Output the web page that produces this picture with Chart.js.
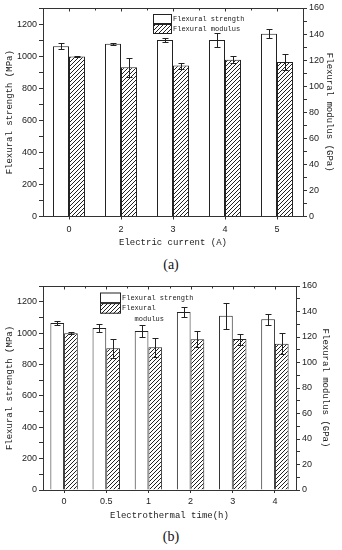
<!DOCTYPE html>
<html><head><meta charset="utf-8">
<script src="https://cdn.jsdelivr.net/npm/chart.js@4.4.1/dist/chart.umd.min.js"></script>
<style>
body{margin:0;background:#fff;width:342px;height:550px;position:relative;overflow:hidden}
.wrap{position:absolute;left:0}
.cap{position:absolute;left:0;width:342px;text-align:center;font-family:"Liberation Serif",serif;font-size:14px;line-height:16px;color:#111}
</style></head><body>
<div class="wrap" style="top:0"><canvas id="ca" width="342" height="255"></canvas></div>
<div class="cap" style="top:257px">(a)</div>
<div class="wrap" style="top:275px"><canvas id="cb" width="342" height="250"></canvas></div>
<div class="cap" style="top:529px">(b)</div>
<script>
// ---- data (a) ----
const currentLabels = ['0','2','3','4','5'];
const strengthA = [1062, 1077, 1100, 1100, 1140];
const strengthErrA = [18, 5, 12, 44, 28];
const modulusA = [122.8, 114.5, 115.8, 120.2, 118.5];
const modulusErrA = [0.7, 7.4, 2.3, 2.7, 5.9];
// ---- data (b) ----
const timeLabels = ['0','0.5','1','2','3','4'];
const strengthB = [1065, 1033, 1014, 1135, 1110, 1088];
const strengthErrB = [15, 26, 37, 32, 83, 35];
const modulusB = [122.9, 111.1, 111.9, 118.2, 118.4, 114.7];
const modulusErrB = [0.7, 7.7, 7.7, 6.3, 4.3, 8.1];
// ---- axis ticks ----
const strengthTicks = {min: 0, max: 1300, step: 100, labelEvery: 200};
const modulusTicks = {min: 0, max: 160, step: 10, labelEvery: 20};

const AX = '#333';
const TXT = '#222';
const tickFont = {family: 'Liberation Sans', size: 9};
const titleFont = {family: 'Liberation Mono', size: 9};

function hatch(){
  const c = document.createElement('canvas'); c.width = 4; c.height = 4;
  const g = c.getContext('2d');
  g.fillStyle = '#fff'; g.fillRect(0,0,4,4);
  g.strokeStyle = '#222'; g.lineWidth = 1;
  g.beginPath();
  g.moveTo(0,4); g.lineTo(4,0);
  g.moveTo(-1,1); g.lineTo(1,-1);
  g.moveTo(3,5); g.lineTo(5,3);
  g.stroke();
  return g.createPattern(c, 'repeat');
}

const errorBars = {
  id: 'errorBars',
  afterDatasetsDraw(chart){
    const ctx = chart.ctx; ctx.save();
    ctx.strokeStyle = '#222'; ctx.lineWidth = 1;
    chart.data.datasets.forEach((ds, i) => {
      const meta = chart.getDatasetMeta(i);
      const ys = chart.scales[ds.yAxisID];
      meta.data.forEach((bar, j) => {
        const v = ds.data[j], e = ds.errors[j];
        const x = Math.round(bar.x) + 0.5;
        const t = Math.round(ys.getPixelForValue(v + e)) + 0.5;
        const b = Math.round(ys.getPixelForValue(v - e)) + 0.5;
        ctx.beginPath();
        ctx.moveTo(x, t); ctx.lineTo(x, b);
        ctx.moveTo(x - 3, t); ctx.lineTo(x + 3, t);
        ctx.moveTo(x - 3, b); ctx.lineTo(x + 3, b);
        ctx.stroke();
      });
    });
    ctx.restore();
  }
};

const frame = {
  id: 'frame',
  afterDraw(chart){
    const {ctx, chartArea: a} = chart;
    const xs = chart.scales.x;
    ctx.save(); ctx.strokeStyle = AX; ctx.lineWidth = 1;
    ctx.beginPath();
    const ty = Math.round(a.top) + 0.5;
    ctx.moveTo(a.left, ty); ctx.lineTo(a.right, ty);
    const n = xs.ticks.length;
    for (let i = 0; i < n; i++){
      const px = Math.round(xs.getPixelForTick(i)) + 0.5;
      ctx.moveTo(px, ty); ctx.lineTo(px, ty + 3);
      if (i < n - 1){
        const mx = Math.round((xs.getPixelForTick(i) + xs.getPixelForTick(i+1))/2) + 0.5;
        ctx.moveTo(mx, ty); ctx.lineTo(mx, ty + 2);
      }
    }
    ctx.stroke();
    ctx.restore();
  }
};

const boxLegend = {
  id: 'boxLegend',
  afterDraw(chart, args, o){
    const ctx = chart.ctx; ctx.save();
    ctx.font = '7px "Liberation Mono"';
    ctx.textBaseline = 'middle'; ctx.fillStyle = TXT;
    chart.data.datasets.forEach((ds, i) => {
      const y = o.y + i * o.h;
      ctx.fillStyle = ds.backgroundColor;
      ctx.fillRect(o.x, y, o.w, o.h);
      ctx.strokeStyle = '#222'; ctx.lineWidth = 1;
      ctx.strokeRect(o.x + 0.5, y + 0.5, o.w - 1, o.h - 1);
      ctx.fillStyle = TXT;
      ds.legendLines.forEach((ln, k) => {
        ctx.fillText(ln, o.x + o.w + 1, y + o.h/2 + k * o.lh);
      });
    });
    ctx.restore();
  }
};

function makeChart(id, labels, xTitle, s, se, m, me, L){
  const tickCb = (t) => (v) => (v % t.labelEvery === 0 ? v : '');
  return new Chart(document.getElementById(id), {
    type: 'bar',
    data: {
      labels: labels,
      datasets: [
        {label: 'Flexural strength', legendLines: ['Flexural strength'], data: s, errors: se, yAxisID: 'y',
         backgroundColor: '#fff', borderColor: '#222', borderWidth: 1},
        {label: 'Flexural modulus', legendLines: L.modLines, data: m, errors: me, yAxisID: 'y2',
         backgroundColor: hatch(), borderColor: '#222', borderWidth: 1}
      ]
    },
    options: {
      responsive: false, animation: false,
      layout: {padding: {top: L.padTop, left: 0, right: 0, bottom: 0}},
      datasets: {bar: {categoryPercentage: L.catPct, barPercentage: 1}},
      plugins: {legend: {display: false}, tooltip: {enabled: false}, boxLegend: L.legend},
      scales: {
        x: {
          offset: true,
          grid: {offset: false, drawOnChartArea: false, tickLength: 3, color: AX},
          border: {color: AX},
          ticks: {font: tickFont, color: TXT, padding: L.xTickPad},
          title: {display: true, text: xTitle, font: titleFont, color: TXT, padding: {top: 0, bottom: L.xTitlePad}},
          afterFit(sc){ sc.height = L.xH; }
        },
        y: {
          position: 'left', min: strengthTicks.min, max: strengthTicks.max,
          grid: {drawOnChartArea: false, tickLength: 4, color: AX},
          border: {color: AX},
          ticks: {stepSize: strengthTicks.step, autoSkip: false, callback: tickCb(strengthTicks), font: tickFont, color: TXT, padding: 2},
          title: {display: true, text: 'Flexural strength (MPa)', font: titleFont, color: TXT, padding: {top: L.yTitlePad, bottom: 0}},
          afterFit(sc){ sc.width = L.yW; }
        },
        y2: {
          position: 'right', min: modulusTicks.min, max: modulusTicks.max,
          grid: {drawOnChartArea: false, tickLength: 4, color: AX},
          border: {color: AX},
          ticks: {stepSize: modulusTicks.step, autoSkip: false, callback: tickCb(modulusTicks), font: tickFont, color: TXT, padding: 2},
          title: {display: true, text: 'Flexural modulus (GPa)', font: titleFont, color: TXT, padding: {top: L.y2TitlePad, bottom: 0}},
          afterFit(sc){ sc.width = L.y2W; }
        }
      }
    },
    plugins: [errorBars, frame, boxLegend]
  });
}

makeChart('ca', currentLabels, 'Electric current (A)', strengthA, strengthErrA, modulusA, modulusErrA, {
  padTop: 8, catPct: 0.615, xH: 38.5, xTickPad: 5, xTitlePad: 7.3, yW: 43, yTitlePad: 4.6, y2W: 39, y2TitlePad: 7.6,
  modLines: ['Flexural modulus'],
  legend: {x: 153, y: 14, w: 19, h: 10, lh: 10}
});
makeChart('cb', timeLabels, 'Electrothermal time(h)', strengthB, strengthErrB, modulusB, modulusErrB, {
  padTop: 11, catPct: 0.65, xH: 35, xTickPad: 3, xTitlePad: 3.6, yW: 43, yTitlePad: 4.6, y2W: 46, y2TitlePad: 11.6,
  modLines: ['Flexural', '   modulus'],
  legend: {x: 100, y: 17.5, w: 21, h: 10.6, lh: 10.6}
});
</script>
</body></html>
